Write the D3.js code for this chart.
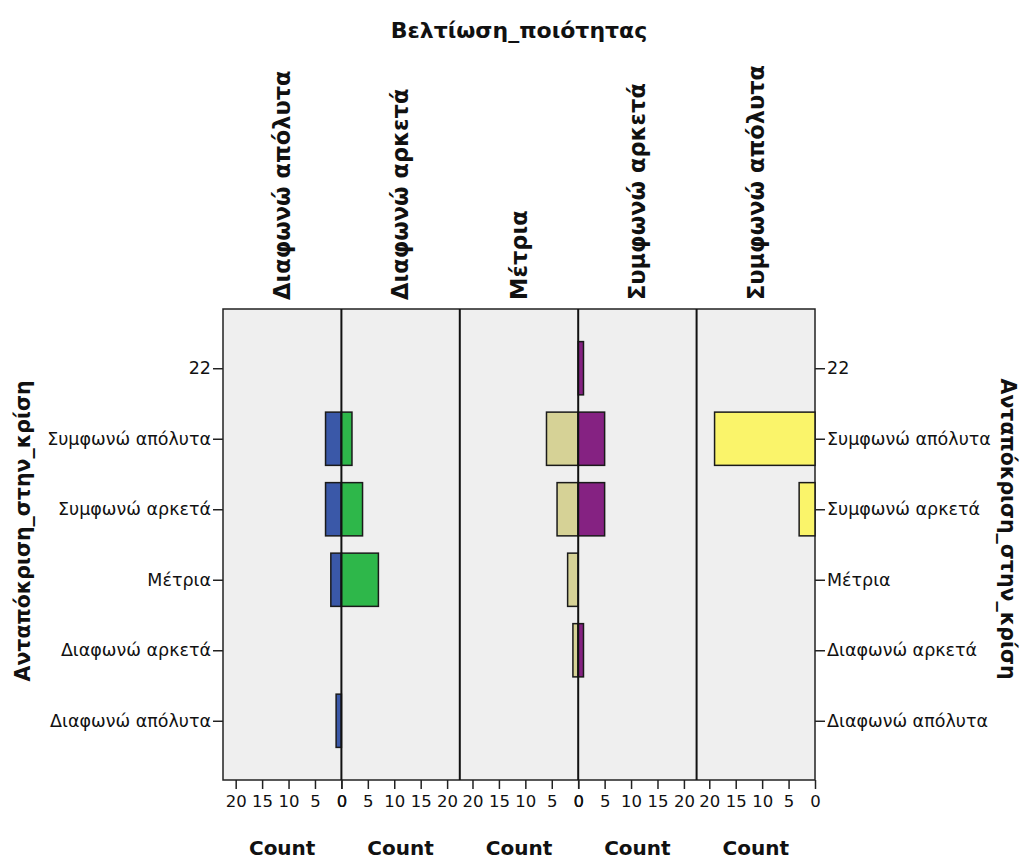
<!DOCTYPE html>
<html>
<head>
<meta charset="utf-8">
<script src="https://cdn.jsdelivr.net/npm/d3@7"></script>
<style>
  body { margin: 0; background: #fff; }
  text { font-family: "DejaVu Sans", Verdana, sans-serif; fill: #111; }
</style>
</head>
<body>
<div id="chart"></div>
<script>
//Data
const colTitle = 'Βελτίωση_ποιότητας';
const rowTitle = 'Ανταπόκριση_στην_κρίση';
const columns = ['Διαφωνώ απόλυτα', 'Διαφωνώ αρκετά', 'Μέτρια', 'Συμφωνώ αρκετά', 'Συμφωνώ απόλυτα'];
const rows = ['22', 'Συμφωνώ απόλυτα', 'Συμφωνώ αρκετά', 'Μέτρια', 'Διαφωνώ αρκετά', 'Διαφωνώ απόλυτα'];
// counts per column, in the order of rows
const countsDA = [0, 3, 3, 2, 0, 1];
const countsDK = [0, 2, 4, 7, 0, 0];
const countsM  = [0, 6, 4, 2, 1, 0];
const countsSK = [1, 5, 5, 0, 1, 0];
const countsSA = [0, 19, 3, 0, 0, 0];
const colCounts = [countsDA, countsDK, countsM, countsSK, countsSA];
const colDir = ['left', 'right', 'left', 'right', 'left']; // which way the bars grow
const colors = ['#3a58a8', '#2eb74a', '#d6d296', '#852282', '#faf46a'];
const xTicks = [0, 5, 10, 15, 20];
const xMax = 22.4;

//Layout
const width = 1030;
const height = 861;
const frame = {left: 223, right: 815, top: 309, bottom: 780};
const colW = (frame.right - frame.left) / columns.length;

const svg = d3.select('#chart').append('svg')
    .attr('width', width)
    .attr('height', height);

const y = d3.scalePoint()
    .domain(rows)
    .range([frame.top, frame.bottom])
    .padding(0.84);
const barH = y.step() * 0.755;

// panel background
svg.append('rect')
    .attr('x', frame.left).attr('y', frame.top)
    .attr('width', frame.right - frame.left)
    .attr('height', frame.bottom - frame.top)
    .attr('fill', '#efefef')
    .attr('stroke', '#222')
    .attr('stroke-width', 1.5);

columns.forEach((c, i) => {
    const x0 = frame.left + i * colW;
    const x1 = x0 + colW;
    const x = d3.scaleLinear().domain([0, xMax])
        .range(colDir[i] === 'left' ? [x1, x0] : [x0, x0 + colW]);
    const g = svg.append('g');

    g.selectAll('rect')
        .data(colCounts[i].map((v, j) => ({row: rows[j], v})).filter(d => d.v > 0))
        .enter()
        .append('rect')
        .attr('x', d => Math.min(x(0), x(d.v)))
        .attr('width', d => Math.abs(x(d.v) - x(0)))
        .attr('y', d => y(d.row) - barH / 2)
        .attr('height', barH)
        .attr('fill', colors[i])
        .attr('stroke', '#1a1a1a')
        .attr('stroke-width', 1.5);

    // bottom axis of the column
    const ax = g.append('g')
        .attr('transform', `translate(0,${frame.bottom})`)
        .call(d3.axisBottom(x).tickValues(xTicks).tickSize(9).tickPadding(6));
    ax.select('.domain').remove();
    ax.selectAll('line').attr('stroke', '#222').attr('stroke-width', 1.5);
    ax.selectAll('text').attr('font-size', 16.5).attr('font-family', '"DejaVu Sans", sans-serif').attr('fill', '#111');

    g.append('text')
        .attr('x', (x0 + x1) / 2)
        .attr('y', 855)
        .attr('text-anchor', 'middle')
        .attr('font-weight', 'bold')
        .attr('font-size', 20)
        .text('Count');

    // column header
    g.append('text')
        .attr('transform', `translate(${(x0 + x1) / 2},300) rotate(-90)`)
        .attr('dy', '0.35em')
        .attr('font-weight', 'bold')
        .attr('font-size', 22.5)
        .text(c);

    // vertical line at inner boundaries
    if (i > 0) {
        g.append('line')
            .attr('x1', x0).attr('x2', x0)
            .attr('y1', frame.top).attr('y2', frame.bottom)
            .attr('stroke', '#111')
            .attr('stroke-width', 2);
    }
});

// row axes on both sides
const styleAxis = (sel) => {
    sel.select('.domain').remove();
    sel.selectAll('line').attr('stroke', '#222').attr('stroke-width', 1.5);
    sel.selectAll('text').attr('font-size', 17.5).attr('font-family', '"DejaVu Sans", sans-serif').attr('fill', '#222');
};
svg.append('g')
    .attr('transform', `translate(${frame.left},0)`)
    .call(d3.axisLeft(y).tickSize(10).tickPadding(2))
    .call(styleAxis);
svg.append('g')
    .attr('transform', `translate(${frame.right},0)`)
    .call(d3.axisRight(y).tickSize(10).tickPadding(2))
    .call(styleAxis);

// titles
svg.append('text')
    .attr('x', (frame.left + frame.right) / 2)
    .attr('y', 38)
    .attr('text-anchor', 'middle')
    .attr('font-weight', 'bold')
    .attr('font-size', 22)
    .text(colTitle);

svg.append('text')
    .attr('transform', 'translate(23,531) rotate(-90)')
    .attr('dy', '0.35em')
    .attr('text-anchor', 'middle')
    .attr('font-weight', 'bold')
    .attr('font-size', 20.5)
    .text(rowTitle);

svg.append('text')
    .attr('transform', 'translate(1008,529) rotate(90)')
    .attr('dy', '0.35em')
    .attr('text-anchor', 'middle')
    .attr('font-weight', 'bold')
    .attr('font-size', 20.5)
    .text(rowTitle);
</script>
</body>
</html>
